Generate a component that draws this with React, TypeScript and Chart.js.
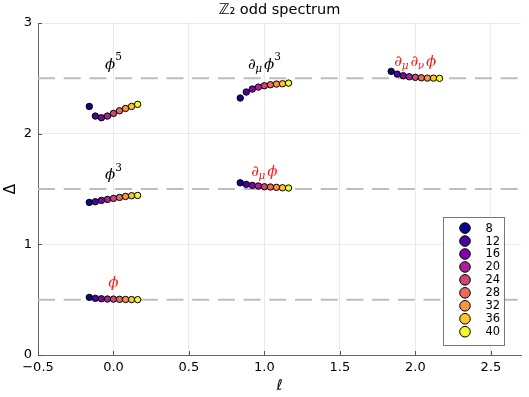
import React, { useEffect, useRef } from 'react';
import { Chart, registerables } from 'chart.js';

Chart.register(...registerables);

// ---- data ----
const SIZES = [8, 12, 16, 20, 24, 28, 32, 36, 40];
const COLORS = ['#0d0887', '#4c02a1', '#7e03a8', '#a82296', '#cc4778', '#e56b5d', '#f89540', '#fdc527', '#f0f921'];

const OP_ELL = [0, 0, 0, 1, 1, 2];
const OP_LEVEL = [0.5, 1.5, 2.5, 1.5, 2.5, 2.5];
const OP_COLOR = ['#ff1a1a', '#000000', '#000000', '#ff1a1a', '#000000', '#ff1a1a'];
const OP_RUNS: [string, string][][] = [
  [['ϕ', 'n']],
  [['ϕ', 'n'], ['3', 'sup']],
  [['ϕ', 'n'], ['5', 'sup']],
  [['∂', 'n'], ['μ', 'sub'], ['ϕ', 'n']],
  [['∂', 'n'], ['μ', 'sub'], ['ϕ', 'n'], ['3', 'sup']],
  [['∂', 'n'], ['μ', 'sub'], ['∂', 'n'], ['ν', 'sub'], ['ϕ', 'n']],
];

const PHI = [0.521, 0.512, 0.508, 0.506, 0.505, 0.503, 0.502, 0.501, 0.5];
const PHI3 = [1.379, 1.385, 1.397, 1.406, 1.415, 1.424, 1.433, 1.439, 1.442];
const PHI5 = [2.246, 2.159, 2.144, 2.159, 2.183, 2.207, 2.228, 2.246, 2.265];
const DPHI = [1.556, 1.542, 1.533, 1.527, 1.52, 1.518, 1.515, 1.511, 1.509];
const DPHI3 = [2.322, 2.376, 2.403, 2.421, 2.433, 2.442, 2.448, 2.451, 2.457];
const DDPHI = [2.563, 2.538, 2.523, 2.514, 2.509, 2.505, 2.502, 2.502, 2.5];
const OP_VALUES = [PHI, PHI3, PHI5, DPHI, DPHI3, DDPHI];

const X_TICKS = [-0.5, 0, 0.5, 1, 1.5, 2, 2.5];
const Y_TICKS = [0, 1, 2, 3];
const X_MIN = -0.5;
const X_MAX = 2.7;
const Y_MIN = 0;
const Y_MAX = 3;
const REF_LEVELS = [0.5, 1.5, 2.5];

const TITLE = 'ℤ₂ odd spectrum';
const X_LABEL = 'ℓ';
const Y_LABEL = 'Δ';

const SANS = '"DejaVu Sans", sans-serif';
const SERIF = '"DejaVu Serif", serif';

function runFont(kind: string) {
  if (kind === 'sup') return `10.5px ${SERIF}`;
  if (kind === 'sub') return `italic 10.5px ${SERIF}`;
  return `italic 15px ${SERIF}`;
}

const decorPlugin = {
  id: 'decor',
  afterDraw(chart: any) {
    const ctx: CanvasRenderingContext2D = chart.ctx;
    const area = chart.chartArea;
    const xs = chart.scales.x;
    const ys = chart.scales.y;
    ctx.save();

    // inward tick marks
    ctx.strokeStyle = '#555';
    ctx.lineWidth = 1;
    ctx.beginPath();
    for (const v of X_TICKS) {
      const px = Math.round(xs.getPixelForValue(v)) + 0.5;
      ctx.moveTo(px, area.bottom);
      ctx.lineTo(px, area.bottom - 4);
    }
    for (const v of Y_TICKS) {
      const py = Math.round(ys.getPixelForValue(v)) + 0.5;
      ctx.moveTo(area.left, py);
      ctx.lineTo(area.left + 4, py);
    }
    ctx.stroke();

    // title
    ctx.fillStyle = '#000';
    ctx.font = `14.5px ${SANS}`;
    ctx.textAlign = 'center';
    ctx.textBaseline = 'middle';
    ctx.fillText(TITLE, (area.left + area.right) / 2, 10);

    // axis labels
    ctx.font = `15px ${SANS}`;
    ctx.fillText(X_LABEL, (area.left + area.right) / 2, 386);
    ctx.save();
    ctx.translate(11, (area.top + area.bottom) / 2);
    ctx.rotate(-Math.PI / 2);
    ctx.fillText(Y_LABEL, 0, 0);
    ctx.restore();

    // operator labels
    ctx.textAlign = 'left';
    ctx.textBaseline = 'alphabetic';
    OP_RUNS.forEach((runs, i) => {
      const hasSup = runs.some((r) => r[1] === 'sup');
      const cx = xs.getPixelForValue(OP_ELL[i]);
      const base = ys.getPixelForValue(OP_LEVEL[i] + 0.15) + (hasSup ? 7 : 3.8);
      const widths = runs.map(([t, k]) => {
        ctx.font = runFont(k);
        return ctx.measureText(t).width + (k === 'sub' ? 1.5 : 0);
      });
      const total = widths.reduce((a, b) => a + b, 0);
      let x = cx - total / 2;
      ctx.fillStyle = OP_COLOR[i];
      runs.forEach(([t, k], j) => {
        ctx.font = runFont(k);
        const dy = k === 'sup' ? -8.5 : k === 'sub' ? 3 : 0;
        ctx.fillText(t, x + (k === 'sub' ? -0.5 : 0), base + dy);
        x += widths[j];
      });
    });

    // legend
    const right = area.right - 17;
    const bottom = area.bottom - 11;
    const w = 61;
    const rowH = 12.95;
    const h = 127.5;
    const left = right - w;
    const top = bottom - h;
    ctx.fillStyle = '#fff';
    ctx.fillRect(left, top, w, h);
    ctx.strokeStyle = '#777';
    ctx.lineWidth = 1;
    ctx.strokeRect(Math.round(left) + 0.5, Math.round(top) + 0.5, Math.round(w), Math.round(h));
    ctx.font = `11.5px ${SANS}`;
    ctx.textBaseline = 'middle';
    ctx.textAlign = 'left';
    const dsets = chart.data.datasets.filter((d: any) => d.isSize);
    dsets.forEach((d: any, i: number) => {
      const cy = top + 11.6 + i * rowH;
      ctx.beginPath();
      ctx.arc(left + 22, cy, 5.3, 0, Math.PI * 2);
      ctx.fillStyle = d.backgroundColor;
      ctx.fill();
      ctx.strokeStyle = '#000';
      ctx.lineWidth = 1;
      ctx.stroke();
      ctx.fillStyle = '#000';
      ctx.fillText(d.label, left + 42.5, cy + 0.5);
    });

    ctx.restore();
  },
};

export default function App() {
  const ref = useRef<HTMLCanvasElement | null>(null);

  useEffect(() => {
    document.body.style.margin = '0';
    const canvas = ref.current;
    if (!canvas) return;

    const lineSets = REF_LEVELS.map((lv) => ({
      type: 'line',
      label: 'ref',
      data: [
        { x: X_MIN, y: lv },
        { x: X_MAX, y: lv },
      ],
      borderColor: '#bdbdbd',
      borderWidth: 2,
      borderDash: [17, 8.7],
      pointRadius: 0,
      fill: false,
      order: 100,
    }));

    const sizeSets = SIZES.map((L, i) => ({
      type: 'scatter',
      label: String(L),
      isSize: true,
      data: OP_VALUES.map((vals, k) => ({ x: OP_ELL[k] + (L - 24) / 100, y: vals[i] })),
      backgroundColor: COLORS[i],
      borderColor: '#000',
      borderWidth: 1,
      pointRadius: 3.2,
      pointHoverRadius: 3.2,
      order: SIZES.length - i,
    }));

    const chart = new Chart(canvas, {
      type: 'scatter',
      data: { datasets: [...sizeSets, ...lineSets] as any },
      options: {
        responsive: false,
        animation: false,
        devicePixelRatio: 1,
        layout: { padding: { top: 23, right: 8, left: 0, bottom: 0 } },
        plugins: {
          legend: { display: false },
          title: { display: false },
          tooltip: { enabled: false },
        },
        scales: {
          x: {
            type: 'linear',
            min: X_MIN,
            max: X_MAX,
            afterFit: (s: any) => {
              s.height = 42;
            },
            afterBuildTicks: (s: any) => {
              s.ticks = X_TICKS.map((v) => ({ value: v }));
            },
            ticks: {
              padding: 5,
              color: '#000',
              font: { family: 'DejaVu Sans', size: 13 },
              maxRotation: 0,
              autoSkip: false,
              callback: (v: any) => Number(v).toFixed(1).replace('-', '\u2212'),
            },
            grid: { color: 'rgba(0,0,0,0.08)', lineWidth: 1, drawTicks: false },
            border: { color: '#666', width: 1 },
          },
          y: {
            type: 'linear',
            min: Y_MIN,
            max: Y_MAX,
            afterFit: (s: any) => {
              s.width = 38;
            },
            afterBuildTicks: (s: any) => {
              s.ticks = Y_TICKS.map((v) => ({ value: v }));
            },
            ticks: {
              padding: 6,
              color: '#000',
              font: { family: 'DejaVu Sans', size: 13 },
              callback: (v: any) => String(v),
            },
            grid: { color: 'rgba(0,0,0,0.08)', lineWidth: 1, drawTicks: false },
            border: { color: '#666', width: 1 },
          },
        },
      } as any,
      plugins: [decorPlugin],
    });

    return () => chart.destroy();
  }, []);

  return (
    <div style={{ width: 529, height: 397, background: '#fff' }}>
      <canvas ref={ref} width={529} height={397} style={{ display: 'block' }} />
    </div>
  );
}
